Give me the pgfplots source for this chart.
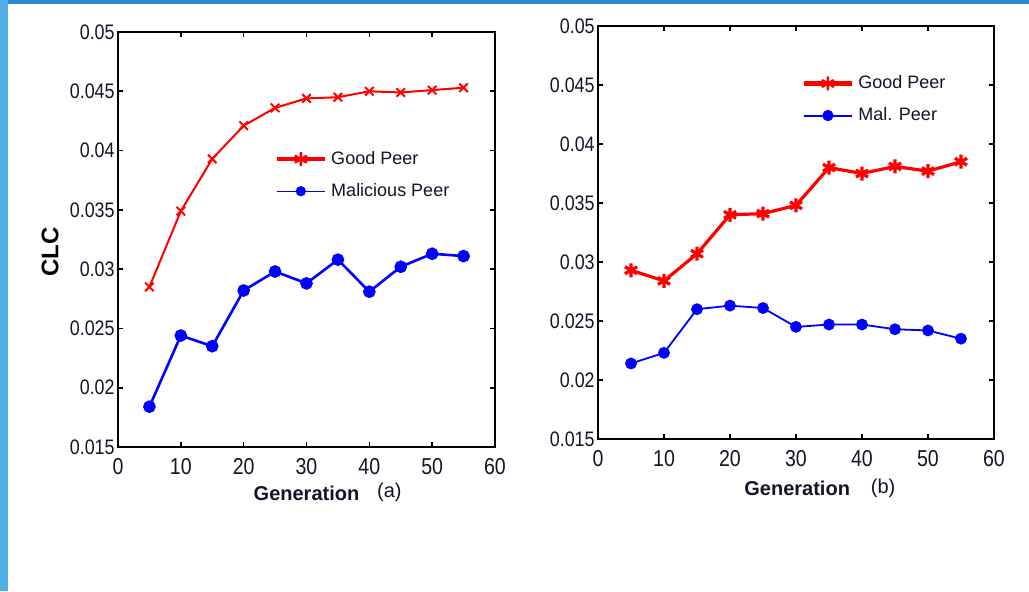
\documentclass[border=0pt]{standalone}
\usepackage{pgfplots}
\pgfplotsset{compat=1.18}
\usepackage{fontspec}
\setmainfont{Liberation Sans}
\newfontfamily\tickfont{Liberation Sans}[FakeStretch=0.85]
\definecolor{bgblueL}{RGB}{82,176,230}
\definecolor{bgblueT}{RGB}{40,140,205}
\definecolor{tickcol}{RGB}{20,20,40}

\pgfplotsset{
  matstyle/.style={
    scale only axis,
    anchor=south west,
    clip mode=individual,
    xmin=0, xmax=60, ymin=0.015, ymax=0.05,
    xtick={0,10,...,60},
    ytick={0.015,0.02,0.025,0.03,0.035,0.04,0.045,0.05},
    scaled y ticks=false,
    /pgf/number format/assume math mode=true,
    yticklabel style={/pgf/number format/fixed,/pgf/number format/precision=3,
      font=\tickfont\fontsize{10.5}{11}\selectfont, text=tickcol, inner sep=1.5pt},
    xticklabel style={font=\tickfont\fontsize{11.5}{12}\selectfont, text=tickcol, yshift=-2pt},
    tick align=inside,
    major tick length=2.5pt,
    tick style={black, line width=0.8pt},
    axis line style={black, line width=0.8pt},
    xtick pos=both, ytick pos=both,
    legend cell align=left,
    legend style={draw=none, fill=none, inner sep=0pt, row sep=4pt,
      font=\fontsize{9}{10}\selectfont, text=tickcol},
    legend image code/.code={
      \draw[#1] (0cm,0cm) -- (0.85cm,0cm);
      \draw[#1, mark repeat=2, mark phase=2] plot coordinates {(0cm,0cm)(0.425cm,0cm)(0.85cm,0cm)};
    },
  }
}

\begin{document}
\begin{tikzpicture}
\fill[white] (0,0) rectangle (514.5pt,295.5pt);
\fill[bgblueL] (0,0) rectangle (4pt,295.5pt);
\fill[bgblueT] (4pt,293.5pt) rectangle (514.5pt,295.5pt);
\fill[bgblueL] (0,293.5pt) rectangle (4pt,295.5pt);

% ---------- (a) ----------
\begin{axis}[matstyle,
  at={(59pt,72pt)}, width=188.5pt, height=207.5pt,
  xlabel={\bfseries Generation},
  xlabel style={at={(axis description cs:0.5,-0.111)}, anchor=center,
    font=\fontsize{10}{12}\selectfont, text=tickcol},
  ylabel={\bfseries CLC},
  ylabel style={at={(axis description cs:-0.18,0.47)}, anchor=center,
    font=\fontsize{12}{14}\selectfont},
  legend style={at={(0.414,0.655)}, anchor=west},
]
\addplot[red, line width=1pt, mark=x, mark size=3pt, mark options={line width=1pt}, forget plot]
coordinates {(5,0.0285)(10,0.0349)(15,0.0393)(20,0.0421)(25,0.0436)(30,0.0444)(35,0.0445)(40,0.0450)(45,0.0449)(50,0.0451)(55,0.0453)};
\addplot[blue, line width=1.3pt, mark=*, mark size=2.5pt, forget plot]
coordinates {(5,0.0184)(10,0.0244)(15,0.0235)(20,0.0282)(25,0.0298)(30,0.0288)(35,0.0308)(40,0.0281)(45,0.0302)(50,0.0313)(55,0.0311)};
\addlegendimage{red, line width=2.2pt, mark=asterisk, mark size=3.5pt, mark options={line width=1.2pt}}
\addlegendentry{Good Peer}
\addlegendimage{blue, line width=0.5pt, mark=*, mark size=2.3pt}
\addlegendentry{Malicious Peer}
\node[font=\fontsize{10}{12}\selectfont, text=tickcol] at (axis description cs:0.72,-0.108) {(a)};
\end{axis}

% ---------- (b) ----------
\begin{axis}[matstyle,
  at={(299pt,76pt)}, width=198pt, height=206.5pt,
  xlabel={\bfseries Generation},
  xlabel style={at={(axis description cs:0.503,-0.119)}, anchor=center,
    font=\fontsize{10}{12}\selectfont, text=tickcol},
  legend style={at={(0.513,0.822)}, anchor=west},
]
\addplot[red, line width=1.6pt, mark=asterisk, mark size=3.5pt, mark options={line width=1.6pt}, forget plot]
coordinates {(5,0.0293)(10,0.0284)(15,0.0307)(20,0.0340)(25,0.0341)(30,0.0348)(35,0.0380)(40,0.0375)(45,0.0381)(50,0.0377)(55,0.0385)};
\addplot[blue, line width=0.9pt, mark=*, mark size=2.5pt, forget plot]
coordinates {(5,0.0214)(10,0.0223)(15,0.0260)(20,0.0263)(25,0.0261)(30,0.0245)(35,0.0247)(40,0.0247)(45,0.0243)(50,0.0242)(55,0.0235)};
\addlegendimage{red, line width=2.2pt, mark=asterisk, mark size=3.5pt, mark options={line width=1.2pt}}
\addlegendentry{Good Peer}
\addlegendimage{blue, line width=1pt, mark=*, mark size=2.3pt}
\addlegendentry{Mal. Peer}
\node[font=\fontsize{10}{12}\selectfont, text=tickcol] at (axis description cs:0.72,-0.119) {(b)};
\end{axis}

\pgfresetboundingbox
\useasboundingbox (0,0) rectangle (514.5pt,295.5pt);
\end{tikzpicture}
\end{document}
